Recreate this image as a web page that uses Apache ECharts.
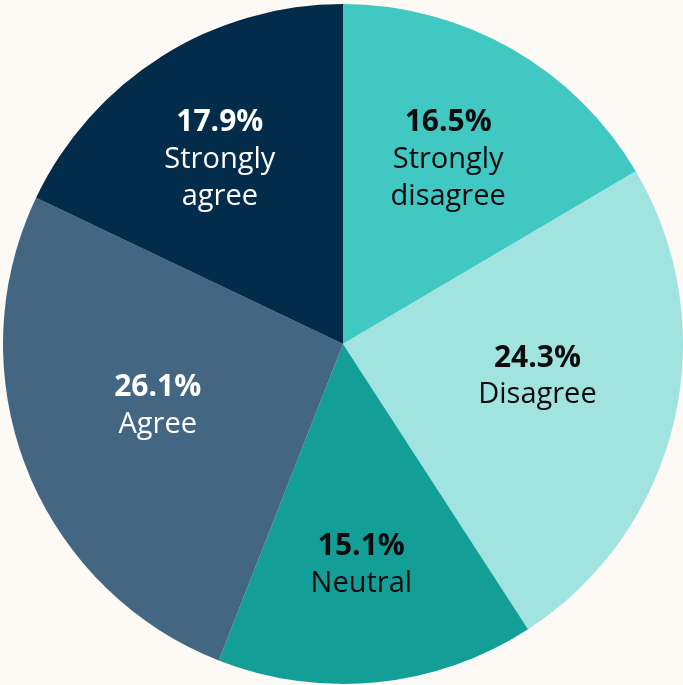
<!DOCTYPE html>
<html>
<head>
<meta charset="utf-8">
<style>
  html, body { margin: 0; padding: 0; background: #fdf9f4; }
  #chart { width: 683px; height: 685px; }
</style>
<script src="https://cdn.jsdelivr.net/npm/echarts@6/dist/echarts.min.js"></script>
</head>
<body>
<div id="chart"></div>
<script>
// Survey response shares, clockwise from the top
const categories = ['Strongly\ndisagree', 'Disagree', 'Neutral', 'Agree', 'Strongly\nagree'];
const shares = [16.5, 24.3, 15.1, 26.1, 17.9];
const sliceColors = ['#42c8c2', '#a1e3df', '#139e98', '#436683', '#032b4a'];
const textColors = ['#0b0b0b', '#0b0b0b', '#0b0b0b', '#ffffff', '#ffffff'];
// small nudges of each label away from its default inside spot
const labelNudges = [[0, 0], [-12, -16], [-3, 10], [12, -16], [-10, -5]];

const chart = echarts.init(document.getElementById('chart'));

const center = [343, 344];
const R = 340;
const FONT = '"Open Sans", Lato, sans-serif';

const sliceData = categories.map((name, i) => ({
  name,
  value: shares[i],
  itemStyle: { color: sliceColors[i] }
}));

// Invisible twin ring so the inside labels sit further out along each slice
const labelData = categories.map((name, i) => ({
  name,
  value: shares[i],
  label: {
    offset: labelNudges[i],
    rich: {
      pct: { fontFamily: FONT, fontWeight: 'bold', fontSize: 30, lineHeight: 37, color: textColors[i] },
      nm: { fontFamily: FONT, fontSize: 29, lineHeight: 37, color: textColors[i] }
    }
  }
}));

chart.setOption({
  backgroundColor: '#fdf9f4',
  animation: false,
  series: [
    {
      type: 'pie',
      center,
      radius: [0, R],
      startAngle: 90,
      clockwise: true,
      silent: true,
      label: { show: false },
      labelLine: { show: false },
      itemStyle: { borderWidth: 0 },
      data: sliceData
    },
    {
      type: 'pie',
      center,
      radius: [0, R * 1.23],
      startAngle: 90,
      clockwise: true,
      silent: true,
      itemStyle: { color: 'rgba(0,0,0,0)', borderWidth: 0 },
      labelLine: { show: false },
      label: {
        show: true,
        position: 'inside',
        formatter: p => {
          const lines = p.name.split('\n').map(s => '{nm|' + s + '}');
          return ['{pct|' + p.value.toFixed(1) + '%}'].concat(lines).join('\n');
        }
      },
      data: labelData
    }
  ]
});
</script>
</body>
</html>
